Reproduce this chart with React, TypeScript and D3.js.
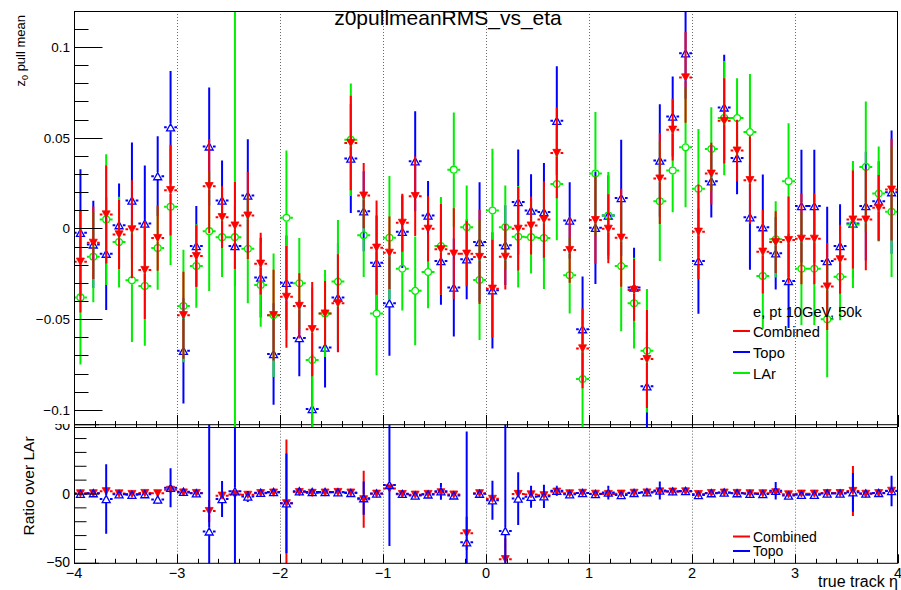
import React from "react";
import * as d3 from "d3";

// Binning of the eta axis
const NBINS = 64;
const ETA_MIN = -4;
const ETA_MAX = 4;
const binWidth = (ETA_MAX - ETA_MIN) / NBINS;
const binCenters = d3.range(NBINS).map((i) => ETA_MIN + (i + 0.5) * binWidth);

// z0 pull mean per eta bin
const combinedMean = [
  -0.0183, -0.0079, 0.0077, -0.0033, -0.0005, -0.0229, -0.0053, 0.0211,
  -0.0478, -0.0152, 0.0233, 0.0062, 0.0016, 0.0071, -0.0194, -0.0478,
  -0.0377, -0.0427, -0.0555, -0.0469, -0.0412, 0.0471, 0.0181, -0.0106,
  -0.0134, 0.0031, 0.0178, -0.0002, -0.0115, -0.0139, -0.0139, -0.0157,
  -0.0332, -0.0156, -0.0002, 0.0016, 0.0049, 0.0416, -0.0119, -0.0661,
  0.0046, -0.0002, -0.0051, -0.0339, -0.072, 0.0275, 0.0544, 0.0832,
  -0.0018, 0.0302, 0.0593, 0.0429, 0.0266, -0.0128, -0.0075, -0.0064,
  -0.0057, -0.0057, -0.032, -0.017, 0.0049, 0.0049, 0.0114, 0.0214,
];
const combinedErr = [
  0.028, 0.02, 0.027, 0.019, 0.027, 0.027, 0.018, 0.025,
  0.024, 0.017, 0.026, 0.017, 0.024, 0.024, 0.017, 0.025,
  0.028, 0.018, 0.026, 0.018, 0.027, 0.026, 0.018, 0.026,
  0.02, 0.016, 0.022, 0.018, 0.025, 0.025, 0.018, 0.026,
  0.027, 0.018, 0.023, 0.016, 0.021, 0.025, 0.018, 0.022,
  0.024, 0.019, 0.027, 0.017, 0.027, 0.025, 0.017, 0.025,
  0.026, 0.017, 0.0235, 0.017, 0.024, 0.023, 0.017, 0.024,
  0.025, 0.025, 0.024, 0.019, 0.027, 0.028, 0.018, 0.028,
];
const topoMean = [
  -0.0024, -0.0088, -0.0139, 0.0018, 0.0154, 0.0027, 0.0288, 0.0557,
  -0.0674, -0.0097, 0.0452, 0.0154, -0.0097, 0.0181, -0.0271, -0.0692,
  -0.0299, -0.0604, -0.0995, -0.0656, -0.0381, 0.0385, 0.0095, -0.0189,
  -0.0412, -0.0018, 0.037, 0.0071, -0.018, -0.0326, -0.017, -0.0075,
  -0.0341, -0.0092, 0.0145, 0.0099, 0.009, 0.0593, 0.0044, -0.0555,
  0.0004, 0.0071, 0.0168, -0.0326, -0.087, 0.0374, 0.0617, 0.0965,
  -0.018, 0.026, 0.0667, 0.0388, 0.0062, 0.0007, -0.0137, -0.0289,
  0.0123, 0.0123, -0.018, -0.0097, 0.0027, 0.0123, 0.015, 0.02,
];
const topoErr = [
  0.035, 0.024, 0.031, 0.023, 0.032, 0.032, 0.022, 0.031,
  0.029, 0.022, 0.0325, 0.022, 0.022, 0.031, 0.022, 0.028,
  0.026, 0.021, 0.03, 0.022, 0.03, 0.03, 0.022, 0.026,
  0.029, 0.02, 0.0275, 0.019, 0.024, 0.027, 0.022, 0.033,
  0.032, 0.022, 0.029, 0.02, 0.027, 0.03, 0.021, 0.029,
  0.031, 0.022, 0.032, 0.022, 0.03, 0.031, 0.022, 0.025,
  0.029, 0.02, 0.029, 0.02, 0.029, 0.029, 0.02, 0.026,
  0.031, 0.031, 0.03, 0.023, 0.03, 0.03, 0.022, 0.034,
];
const larMean = [
  -0.038, -0.0156, 0.0049, -0.0075, -0.0286, -0.0317, -0.0108, 0.0119,
  -0.0427, -0.0207, -0.0015, -0.0048, -0.0048, -0.0112, -0.0311, -0.0478,
  0.0059, -0.0302, -0.0725, -0.0469, -0.0293, 0.0489, -0.0038, -0.0469,
  -0.0051, -0.0222, -0.0344, -0.024, -0.0097, 0.0324, 0.0007, -0.0284,
  0.0099, 0.0007, -0.0046, -0.0048, -0.0053, 0.0245, -0.0258, -0.083,
  0.0302, 0.0071, -0.0207, -0.0412, -0.0674, 0.015, 0.0319, 0.0447,
  0.0218, 0.0438, 0.0608, 0.0608, 0.0531, -0.0262, -0.006, 0.026,
  -0.0222, -0.0222, -0.05, -0.0266, 0.0022, 0.0339, 0.0192, 0.0092,
];
const larErr = [
  0.037, 0.025, 0.036, 0.025, 0.034, 0.033, 0.023, 0.032,
  0.031, 0.023, 0.033, 0.022, 0.25, 0.03, 0.023, 0.034,
  0.037, 0.025, 0.04, 0.024, 0.034, 0.031, 0.023, 0.034,
  0.034, 0.023, 0.03, 0.02, 0.027, 0.0315, 0.023, 0.033,
  0.034, 0.023, 0.028, 0.02, 0.028, 0.031, 0.021, 0.035,
  0.034, 0.024, 0.036, 0.025, 0.034, 0.033, 0.023, 0.033,
  0.033, 0.023, 0.0315, 0.022, 0.032, 0.029, 0.021, 0.032,
  0.031, 0.031, 0.032, 0.024, 0.035, 0.036, 0.026, 0.036,
];

// Ratio over LAr per eta bin
const ratioCombined = [
  0.5, 0.5, 2.0, 0.4, 0.0, 0.7, 0.5, 3.0,
  1.1, 0.7, -12.3, -1.2, -0.3, -0.6, 0.6, 1.0,
  -6.7, 1.4, 0.8, 1.0, 1.4, 1.0, -3.8, 0.2,
  4.0, -0.1, -0.5, 0.0, 1.2, -0.4, -28.4, 0.55,
  -3.5, -47, 0.04, -0.3, -0.9, 1.7, 0.46, 0.8,
  0.15, 0.0, 0.25, 0.82, 1.07, 1.83, 1.7, 1.86,
  -0.08, 0.69, 0.98, 0.7, 0.5, 0.49, 1.25, -0.25,
  0.26, 0.26, 0.64, 0.64, 2.2, 0.14, 0.59, 2.3,
];
const ratioCombinedErr = [
  1.2, 1.2, 1.5, 1.2, 1.2, 1.2, 1.2, 2.0,
  1.2, 1.2, 8, 1.5, 3, 1.5, 1.2, 1.2,
  46, 1.2, 1.2, 1.2, 1.2, 1.2, 20.5, 1.2,
  2.5, 1.2, 1.2, 1.2, 1.5, 1.2, 12, 1.2,
  2.5, 15, 1.5, 1.2, 1.2, 1.2, 1.2, 1.2,
  1.2, 1.2, 1.2, 1.2, 1.2, 1.2, 1.2, 1.2,
  1.2, 1.2, 1.2, 1.2, 1.2, 1.2, 1.2, 1.2,
  1.2, 1.2, 1.2, 1.2, 18, 1.2, 1.2, 1.5,
];
const ratioTopo = [
  0.1, 0.6, -3.6, -0.2, -0.5, -0.1, -4.0, 4.5,
  1.6, 0.5, -27, -3.6, 2.0, -1.8, 0.9, 1.4,
  -6.7, 2.0, 1.4, 1.4, 1.3, 0.8, -3.0, 0.4,
  6.5, 0.1, -1.1, -0.3, 1.9, -1.0, -34.9, 0.26,
  -4.5, -26.7, -3.3, -2.0, -1.7, 2.4, -0.2, 0.7,
  0.0, 1.0, -0.8, 0.8, 1.3, 2.5, 1.9, 2.2,
  -0.8, 0.6, 1.1, 0.6, 0.1, 0.0, 2.3, -1.1,
  -0.55, -0.55, 0.36, 0.36, 1.2, 0.36, 0.78, 2.2,
];
const ratioTopoErr = [
  1.5, 1.5, 25, 1.5, 1.5, 1.5, 3, 14,
  1.5, 1.5, 80, 13, 80, 4, 1.5, 1.5,
  36, 1.5, 1.5, 1.5, 1.5, 1.5, 12, 1.5,
  44, 1.5, 1.5, 1.5, 6, 1.5, 80, 1.5,
  14, 80, 19, 8, 8.4, 3.6, 1.5, 1.5,
  1.5, 5, 1.5, 1.5, 1.5, 6.5, 1.5, 1.5,
  1.5, 1.5, 1.5, 1.5, 1.5, 1.5, 6.3, 1.5,
  1.5, 1.5, 1.5, 1.5, 14, 1.5, 1.5, 11,
];

// Axis labels
const xTickValues = [-4, -3, -2, -1, 0, 1, 2, 3, 4];
const topYTickValues = [-0.1, -0.05, 0, 0.05, 0.1];
const bottomYTickValues = [-50, 0, 50];
const legendTopLabels = ["Combined", "Topo", "LAr"];
const legendBottomLabels = ["Combined", "Topo"];

const FONT = "'Liberation Sans', Arial, Helvetica, sans-serif";
const RED = "#ff0000";
const BLUE = "#0000ff";
const GREEN = "#00ee00";

const W = 901;
const H = 590;
const FL = 74;
const FR = 898;
const TOP_T = 11;
const TOP_B = 427;
const BOT_T = 424.7;
const BOT_B = 563.3;

const xScale = d3.scaleLinear().domain([ETA_MIN, ETA_MAX]).range([FL, FR]);
const yTop = d3.scaleLinear().domain([-0.1094, 0.1198]).range([TOP_B, TOP_T]);
const yBot = d3.scaleLinear().domain([-50, 50]).range([BOT_B, BOT_T]);

const fmt = (v: number) => {
  if (v === 0) return "0";
  const s = String(Math.abs(v));
  return (v < 0 ? "\u2212" : "") + s;
};

type MarkerKind = "downFilled" | "upOpen" | "circleOpen";

function markerPath(kind: MarkerKind, cx: number, cy: number) {
  const hw = 4;
  const hh = 3.6;
  if (kind === "downFilled") {
    return `M${cx - hw},${cy - hh}L${cx + hw},${cy - hh}L${cx},${cy + hh}Z`;
  }
  if (kind === "upOpen") {
    return `M${cx - hw},${cy + hh}L${cx + hw},${cy + hh}L${cx},${cy - hh}Z`;
  }
  const r = 3.4;
  return `M${cx - r},${cy}a${r},${r} 0 1,0 ${2 * r},0a${r},${r} 0 1,0 ${-2 * r},0Z`;
}

function ErrorSeries(props: {
  mean: number[];
  err: number[];
  color: string;
  marker: MarkerKind;
  y: d3.ScaleLinear<number, number>;
}) {
  const { mean, err, color, marker, y } = props;
  const gap = 3.8;
  let bars = "";
  let marks = "";
  mean.forEach((v, i) => {
    const c = binCenters[i];
    const cx = xScale(c);
    const cy = y(v);
    const xl = xScale(c - binWidth / 2);
    const xr = xScale(c + binWidth / 2);
    const yt = y(v + err[i]);
    const yb = y(v - err[i]);
    bars += `M${xl},${cy}H${cx - gap}M${cx + gap},${cy}H${xr}`;
    if (yt < cy - gap) bars += `M${cx},${cy - gap}V${yt}`;
    if (yb > cy + gap) bars += `M${cx},${cy + gap}V${yb}`;
    marks += markerPath(marker, cx, cy);
  });
  const filled = marker === "downFilled";
  return (
    <g>
      <path d={bars} stroke={color} strokeWidth={2} fill="none" />
      <path
        d={marks}
        stroke={color}
        strokeWidth={filled ? 0.8 : 1.3}
        fill={filled ? color : "none"}
      />
    </g>
  );
}

function Grid(props: { top: number; bottom: number }) {
  return (
    <g>
      {xTickValues
        .filter((v) => v > ETA_MIN && v < ETA_MAX)
        .map((v) => (
          <line
            key={v}
            x1={Math.round(xScale(v)) + 0.5}
            x2={Math.round(xScale(v)) + 0.5}
            y1={props.top}
            y2={props.bottom}
            stroke="#444"
            strokeWidth={0.8}
            strokeDasharray="1,2"
          />
        ))}
    </g>
  );
}

function XTicks(props: { yPos: number; major: number; minor: number }) {
  const ticks = d3.range(-20, 21).map((k) => ({ v: k / 5, major: k % 5 === 0 }));
  return (
    <g stroke="#000" strokeWidth={1}>
      {ticks.map((t, i) => {
        const xp = Math.round(xScale(t.v)) + 0.5;
        return (
          <line
            key={i}
            x1={xp}
            x2={xp}
            y1={props.yPos}
            y2={props.yPos - (t.major ? props.major : props.minor)}
          />
        );
      })}
    </g>
  );
}

export default function App() {
  const topYTicks = d3.range(-10, 12).map((k) => ({ v: k / 100, major: k % 5 === 0 }));
  const botYTicks = d3.range(-5, 6).map((k) => ({ v: k * 10, major: k % 5 === 0 }));

  return (
    <svg
      width={W}
      height={H}
      viewBox={`0 0 ${W} ${H}`}
      style={{ position: "absolute", left: 0, top: 0, background: "#fff" }}
      fontFamily={FONT}
    >
      <defs>
        <clipPath id="clipTopFrame">
          <rect x={FL} y={TOP_T} width={FR - FL} height={TOP_B - TOP_T} />
        </clipPath>
        <clipPath id="clipBotFrame">
          <rect x={FL} y={BOT_T} width={FR - FL} height={BOT_B - BOT_T} />
        </clipPath>
        <clipPath id="clipBotPad">
          <rect x={0} y={424} width={W} height={H - 424} />
        </clipPath>
      </defs>
      <rect x={0} y={0} width={W} height={H} fill="#fff" />

      {/* ---------- ratio pad ---------- */}
      <g>
        <Grid top={BOT_T} bottom={BOT_B} />
        <g clipPath="url(#clipBotFrame)">
          <ErrorSeries mean={ratioCombined} err={ratioCombinedErr} color={RED} marker="downFilled" y={yBot} />
          <ErrorSeries mean={ratioTopo} err={ratioTopoErr} color={BLUE} marker="upOpen" y={yBot} />
        </g>
        <rect x={FL + 0.5} y={BOT_T} width={FR - FL - 1} height={BOT_B - BOT_T} fill="none" stroke="#000" strokeWidth={1} />
        <XTicks yPos={BOT_B} major={9} minor={4.5} />
        <g stroke="#000" strokeWidth={1}>
          {botYTicks.map((t, i) => {
            const yp = yBot(t.v);
            return <line key={i} x1={FL} x2={FL + (t.major ? 25 : 12.5)} y1={yp} y2={yp} />;
          })}
        </g>
        <g clipPath="url(#clipBotPad)" fontSize={14} textAnchor="end">
          {bottomYTickValues.map((v) => (
            <text key={v} x={70} y={yBot(v) + (v < 0 ? 3.5 : 5)}>
              {fmt(v)}
            </text>
          ))}
        </g>
        {xTickValues.map((v) => (
          <text key={v} x={xScale(v)} y={578} fontSize={14.5} textAnchor="middle">
            {fmt(v)}
          </text>
        ))}
        <text x={898} y={587} fontSize={16} textAnchor="end">
          true track η
        </text>
        <text
          transform={`translate(34,${486}) rotate(-90)`}
          fontSize={15.5}
          textAnchor="middle"
        >
          Ratio over LAr
        </text>
        {legendBottomLabels.map((lab, i) => {
          const yy = 536.5 + i * 14.5;
          return (
            <g key={lab}>
              <line x1={733} x2={750} y1={yy} y2={yy} stroke={i === 0 ? RED : BLUE} strokeWidth={2} />
              <text x={753} y={yy + 5} fontSize={14}>
                {lab}
              </text>
            </g>
          );
        })}
      </g>

      {/* ---------- main pad ---------- */}
      <g>
        <Grid top={TOP_T} bottom={TOP_B} />
        <g clipPath="url(#clipTopFrame)">
          <ErrorSeries mean={topoMean} err={topoErr} color={BLUE} marker="upOpen" y={yTop} />
          <ErrorSeries mean={larMean} err={larErr} color={GREEN} marker="circleOpen" y={yTop} />
          <ErrorSeries mean={combinedMean} err={combinedErr} color={RED} marker="downFilled" y={yTop} />
        </g>
        <rect x={FL + 0.5} y={TOP_T + 0.5} width={FR - FL - 1} height={TOP_B - TOP_T} fill="none" stroke="#000" strokeWidth={1} />
        <XTicks yPos={TOP_B} major={12} minor={6} />
        <g stroke="#000" strokeWidth={1}>
          {topYTicks.map((t, i) => {
            const yp = Math.round(yTop(t.v)) + 0.5;
            return <line key={i} x1={FL} x2={FL + (t.major ? 28.5 : 14.5)} y1={yp} y2={yp} />;
          })}
        </g>
        <g fontSize={13.5} textAnchor="end">
          {topYTickValues.map((v) => (
            <text key={v} x={70} y={yTop(v) + 5}>
              {fmt(v)}
            </text>
          ))}
        </g>
        <text transform="translate(25,15) rotate(-90)" fontSize={13} textAnchor="end">
          z
          <tspan fontSize={9} dy={3}>
            0
          </tspan>
          <tspan dy={-3}> pull mean</tspan>
        </text>
        <text x={448} y={25} fontSize={21} textAnchor="middle">
          z0pullmeanRMS_vs_eta
        </text>
        <text x={753} y={317} fontSize={14.7}>
          e, pt 10GeV, 50k
        </text>
        {legendTopLabels.map((lab, i) => {
          const yy = 331 + i * 21;
          const col = [RED, BLUE, GREEN][i];
          return (
            <g key={lab}>
              <line x1={733} x2={750} y1={yy} y2={yy} stroke={col} strokeWidth={2} />
              <text x={753} y={yy + 5.5} fontSize={14.7}>
                {lab}
              </text>
            </g>
          );
        })}
      </g>
    </svg>
  );
}
